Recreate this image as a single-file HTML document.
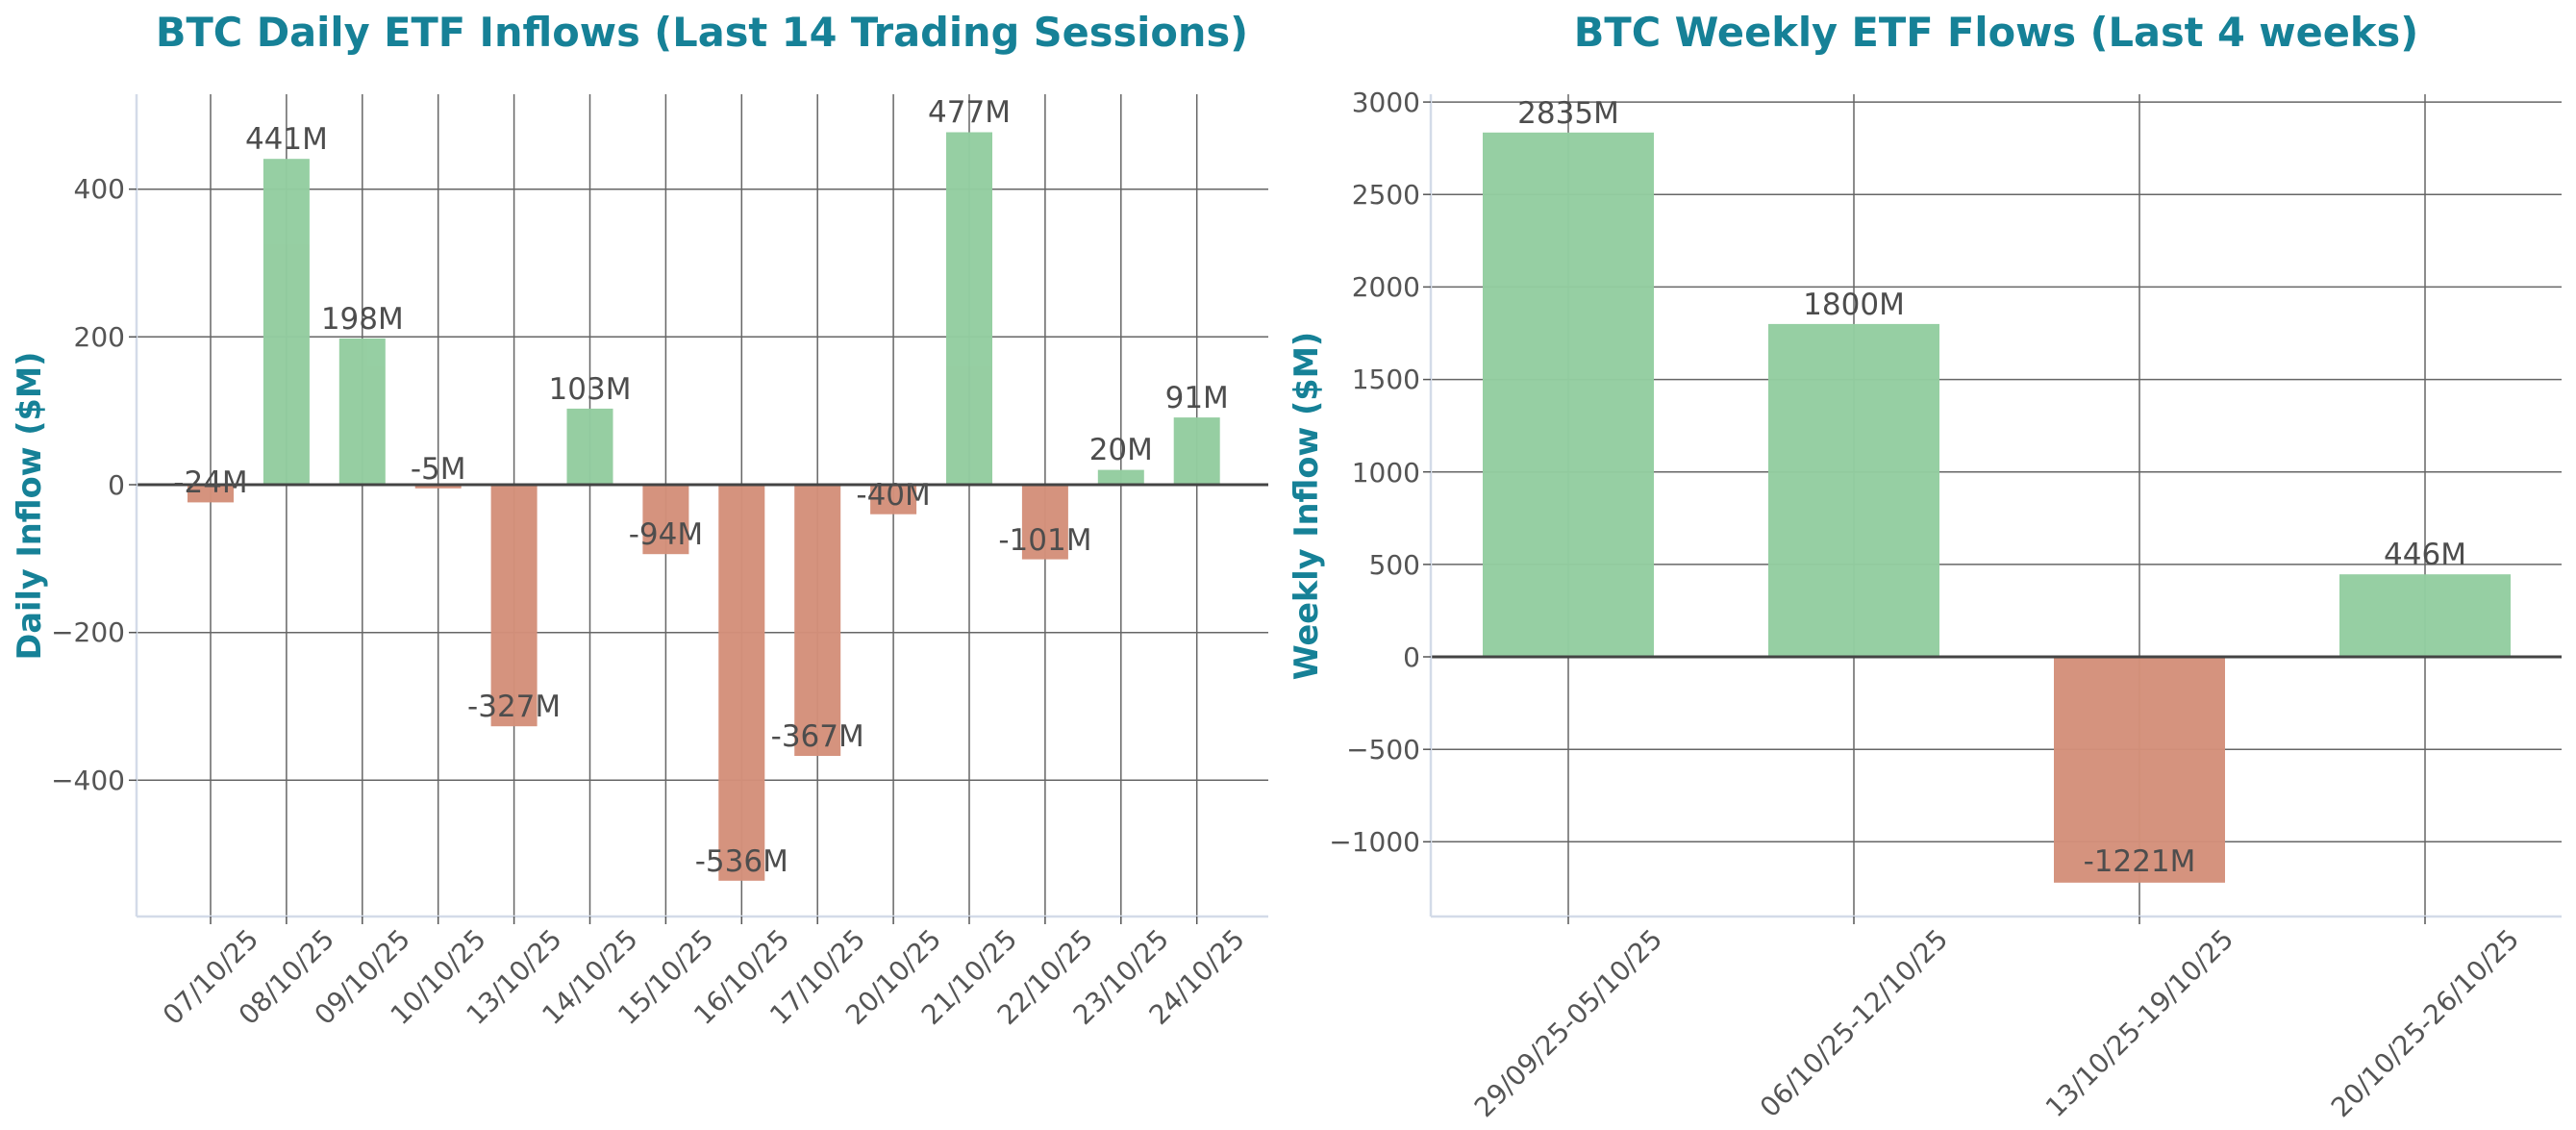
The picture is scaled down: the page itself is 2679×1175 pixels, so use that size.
<!DOCTYPE html>
<html><head><meta charset="utf-8"><style>
html,body{margin:0;padding:0;background:#fff;}
svg{display:block;}
text{font-family:"DejaVu Sans","Liberation Sans",sans-serif;}
.t{fill:#168197;font-weight:bold;font-size:41.5px;}
.yl{fill:#168197;font-weight:bold;font-size:33.5px;}
.tk{fill:#555;font-size:28px;}
.an{fill:#4d4d4d;font-size:31px;text-anchor:middle;}
.g{stroke:#666;stroke-width:1.5;}
.gr{fill:#93cda0;}
.rd{fill:#d4907a;}
</style></head><body>
<svg width="2679" height="1175" viewBox="0 0 2679 1175" xmlns="http://www.w3.org/2000/svg">
<rect width="2679" height="1175" fill="#fff"/>
<!-- LEFT CHART -->
<text class="t" x="730" y="48" text-anchor="middle">BTC Daily ETF Inflows (Last 14 Trading Sessions)</text>
<text class="yl" transform="translate(42,526) rotate(-90)" text-anchor="middle">Daily Inflow ($M)</text>
<g class="g">
<line x1="142" x2="1319" y1="196.7" y2="196.7"/><line x1="142" x2="1319" y1="350.3" y2="350.3"/>
<line x1="142" x2="1319" y1="657.7" y2="657.7"/><line x1="142" x2="1319" y1="811.3" y2="811.3"/>
<line x1="219" x2="219" y1="98" y2="953"/><line x1="297.9" x2="297.9" y1="98" y2="953"/>
<line x1="376.8" x2="376.8" y1="98" y2="953"/><line x1="455.7" x2="455.7" y1="98" y2="953"/>
<line x1="534.6" x2="534.6" y1="98" y2="953"/><line x1="613.5" x2="613.5" y1="98" y2="953"/>
<line x1="692.4" x2="692.4" y1="98" y2="953"/><line x1="771.3" x2="771.3" y1="98" y2="953"/>
<line x1="850.2" x2="850.2" y1="98" y2="953"/><line x1="929.1" x2="929.1" y1="98" y2="953"/>
<line x1="1008" x2="1008" y1="98" y2="953"/><line x1="1086.9" x2="1086.9" y1="98" y2="953"/>
<line x1="1165.8" x2="1165.8" y1="98" y2="953"/><line x1="1244.7" x2="1244.7" y1="98" y2="953"/>
</g>
<g opacity="0.97">
<rect class="rd" x="195" y="504" width="48" height="18.4"/>
<rect class="gr" x="273.9" y="165.2" width="48" height="338.8"/>
<rect class="gr" x="352.8" y="351.9" width="48" height="152.1"/>
<rect class="rd" x="431.7" y="504" width="48" height="3.8"/>
<rect class="rd" x="510.6" y="504" width="48" height="251.2"/>
<rect class="gr" x="589.5" y="424.9" width="48" height="79.1"/>
<rect class="rd" x="668.4" y="504" width="48" height="72.2"/>
<rect class="rd" x="747.3" y="504" width="48" height="411.8"/>
<rect class="rd" x="826.2" y="504" width="48" height="282"/>
<rect class="rd" x="905.1" y="504" width="48" height="30.7"/>
<rect class="gr" x="984" y="137.5" width="48" height="366.5"/>
<rect class="rd" x="1062.9" y="504" width="48" height="77.6"/>
<rect class="gr" x="1141.8" y="488.6" width="48" height="15.4"/>
<rect class="gr" x="1220.7" y="434.1" width="48" height="69.9"/>
</g>
<line x1="142" x2="1319" y1="504" y2="504" stroke="#444" stroke-width="3"/>
<line x1="142" x2="142" y1="98" y2="953" stroke="#d3dbe8" stroke-width="2.5"/>
<line x1="142" x2="1319" y1="953" y2="953" stroke="#d3dbe8" stroke-width="2.5"/>
<g stroke="#555" stroke-width="1.5">
<line x1="134" x2="142" y1="196.7" y2="196.7"/><line x1="134" x2="142" y1="350.3" y2="350.3"/>
<line x1="134" x2="142" y1="504" y2="504"/><line x1="134" x2="142" y1="657.7" y2="657.7"/>
<line x1="134" x2="142" y1="811.3" y2="811.3"/>
<line x1="219" x2="219" y1="953" y2="961"/><line x1="297.9" x2="297.9" y1="953" y2="961"/>
<line x1="376.8" x2="376.8" y1="953" y2="961"/><line x1="455.7" x2="455.7" y1="953" y2="961"/>
<line x1="534.6" x2="534.6" y1="953" y2="961"/><line x1="613.5" x2="613.5" y1="953" y2="961"/>
<line x1="692.4" x2="692.4" y1="953" y2="961"/><line x1="771.3" x2="771.3" y1="953" y2="961"/>
<line x1="850.2" x2="850.2" y1="953" y2="961"/><line x1="929.1" x2="929.1" y1="953" y2="961"/>
<line x1="1008" x2="1008" y1="953" y2="961"/><line x1="1086.9" x2="1086.9" y1="953" y2="961"/>
<line x1="1165.8" x2="1165.8" y1="953" y2="961"/><line x1="1244.7" x2="1244.7" y1="953" y2="961"/>
</g>
<g class="tk" text-anchor="end">
<text x="130" y="206">400</text><text x="130" y="360">200</text><text x="130" y="514">0</text>
<text x="130" y="667">−200</text><text x="130" y="821">−400</text>
</g>
<g class="tk" text-anchor="middle" dominant-baseline="central">
<text transform="translate(219,1016) rotate(-45)">07/10/25</text>
<text transform="translate(297.9,1016) rotate(-45)">08/10/25</text>
<text transform="translate(376.8,1016) rotate(-45)">09/10/25</text>
<text transform="translate(455.7,1016) rotate(-45)">10/10/25</text>
<text transform="translate(534.6,1016) rotate(-45)">13/10/25</text>
<text transform="translate(613.5,1016) rotate(-45)">14/10/25</text>
<text transform="translate(692.4,1016) rotate(-45)">15/10/25</text>
<text transform="translate(771.3,1016) rotate(-45)">16/10/25</text>
<text transform="translate(850.2,1016) rotate(-45)">17/10/25</text>
<text transform="translate(929.1,1016) rotate(-45)">20/10/25</text>
<text transform="translate(1008,1016) rotate(-45)">21/10/25</text>
<text transform="translate(1086.9,1016) rotate(-45)">22/10/25</text>
<text transform="translate(1165.8,1016) rotate(-45)">23/10/25</text>
<text transform="translate(1244.7,1016) rotate(-45)">24/10/25</text>
</g>
<g class="an">
<text x="219" y="512">-24M</text><text x="297.9" y="155">441M</text><text x="376.8" y="342">198M</text>
<text x="455.7" y="498">-5M</text><text x="534.6" y="745">-327M</text><text x="613.5" y="415">103M</text>
<text x="692.4" y="566">-94M</text><text x="771.3" y="906">-536M</text><text x="850.2" y="776">-367M</text>
<text x="929.1" y="525">-40M</text><text x="1008" y="127">477M</text><text x="1086.9" y="572">-101M</text>
<text x="1165.8" y="478">20M</text><text x="1244.7" y="424">91M</text>
</g>
<!-- RIGHT CHART -->
<text class="t" x="2076" y="48" text-anchor="middle">BTC Weekly ETF Flows (Last 4 weeks)</text>
<text class="yl" transform="translate(1370,526) rotate(-90)" text-anchor="middle">Weekly Inflow ($M)</text>
<g class="g">
<line x1="1488" x2="2664" y1="106.1" y2="106.1"/><line x1="1488" x2="2664" y1="202.2" y2="202.2"/>
<line x1="1488" x2="2664" y1="298.4" y2="298.4"/><line x1="1488" x2="2664" y1="394.6" y2="394.6"/>
<line x1="1488" x2="2664" y1="490.7" y2="490.7"/><line x1="1488" x2="2664" y1="586.9" y2="586.9"/>
<line x1="1488" x2="2664" y1="779.2" y2="779.2"/><line x1="1488" x2="2664" y1="875.3" y2="875.3"/>
<line x1="1631" x2="1631" y1="98" y2="953"/><line x1="1928" x2="1928" y1="98" y2="953"/>
<line x1="2225" x2="2225" y1="98" y2="953"/><line x1="2522" x2="2522" y1="98" y2="953"/>
</g>
<g opacity="0.97">
<rect class="gr" x="1542" y="137.8" width="178" height="545.2"/>
<rect class="gr" x="1839" y="336.9" width="178" height="346.1"/>
<rect class="rd" x="2136" y="683" width="178" height="234.8"/>
<rect class="gr" x="2433" y="597.2" width="178" height="85.8"/>
</g>
<line x1="1488" x2="2664" y1="683" y2="683" stroke="#444" stroke-width="3"/>
<line x1="1488" x2="1488" y1="98" y2="953" stroke="#d3dbe8" stroke-width="2.5"/>
<line x1="1488" x2="2664" y1="953" y2="953" stroke="#d3dbe8" stroke-width="2.5"/>
<g stroke="#555" stroke-width="1.5">
<line x1="1480" x2="1488" y1="106.1" y2="106.1"/><line x1="1480" x2="1488" y1="202.2" y2="202.2"/>
<line x1="1480" x2="1488" y1="298.4" y2="298.4"/><line x1="1480" x2="1488" y1="394.6" y2="394.6"/>
<line x1="1480" x2="1488" y1="490.7" y2="490.7"/><line x1="1480" x2="1488" y1="586.9" y2="586.9"/>
<line x1="1480" x2="1488" y1="683" y2="683"/><line x1="1480" x2="1488" y1="779.2" y2="779.2"/>
<line x1="1480" x2="1488" y1="875.3" y2="875.3"/>
<line x1="1631" x2="1631" y1="953" y2="961"/><line x1="1928" x2="1928" y1="953" y2="961"/>
<line x1="2225" x2="2225" y1="953" y2="961"/><line x1="2522" x2="2522" y1="953" y2="961"/>
</g>
<g class="tk" text-anchor="end">
<text x="1477" y="116">3000</text><text x="1477" y="212">2500</text><text x="1477" y="308">2000</text>
<text x="1477" y="404">1500</text><text x="1477" y="501">1000</text><text x="1477" y="597">500</text>
<text x="1477" y="693">0</text><text x="1477" y="789">−500</text><text x="1477" y="885">−1000</text>
</g>
<g class="tk" text-anchor="middle" dominant-baseline="central">
<text transform="translate(1631,1064) rotate(-45)">29/09/25-05/10/25</text>
<text transform="translate(1928,1064) rotate(-45)">06/10/25-12/10/25</text>
<text transform="translate(2225,1064) rotate(-45)">13/10/25-19/10/25</text>
<text transform="translate(2522,1064) rotate(-45)">20/10/25-26/10/25</text>
</g>
<g class="an">
<text x="1631" y="128">2835M</text><text x="1928" y="327">1800M</text>
<text x="2225" y="906">-1221M</text><text x="2522" y="587">446M</text>
</g>
</svg>
</body></html>
